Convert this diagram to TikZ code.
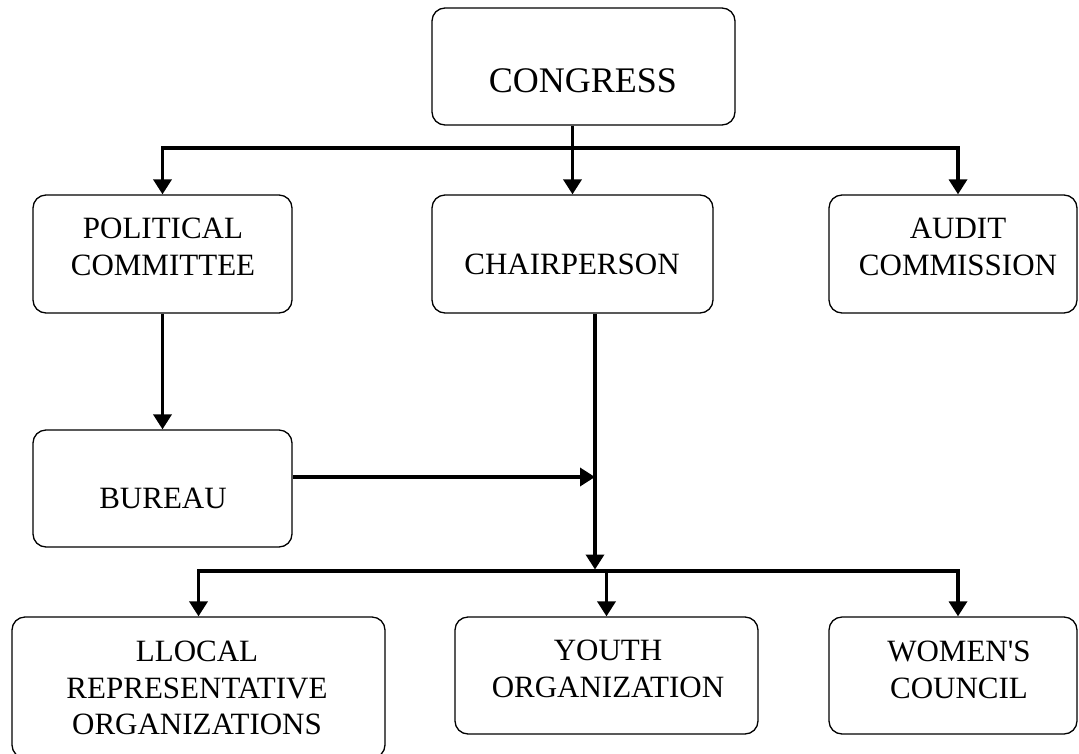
\documentclass[tikz,border=0pt]{standalone}
\usepackage{fontspec}
\newfontfamily\tnr{Liberation Serif}
\usetikzlibrary{arrows.meta}
\begin{document}
\begin{tikzpicture}[x=1pt,y=-1pt,
  box/.style={draw, line width=1.3pt, rounded corners=13pt, inner sep=0pt},
  lbl/.style={anchor=north, inner sep=0pt, align=center, font=\tnr\fontsize{31}{36.5}\selectfont},
  arr/.style={line width=3.5pt, -{Triangle[width=18pt,length=15pt]}}]
\useasboundingbox (0,0) rectangle (1079,753);
% boxes
\node[box, minimum width=303pt, minimum height=117pt] (congress) at (583.5,66.5) {};
\node[box, minimum width=259pt, minimum height=118pt] (polcom) at (162.5,254) {};
\node[box, minimum width=281pt, minimum height=118pt] (chair) at (572.5,254) {};
\node[box, minimum width=248pt, minimum height=118pt] (audit) at (953,254) {};
\node[box, minimum width=259pt, minimum height=117pt] (bureau) at (162.5,488.5) {};
\node[box, minimum width=373pt, minimum height=141pt] (llocal) at (198.5,687.5) {};
\node[box, minimum width=303pt, minimum height=117pt] (youth) at (606.5,675.5) {};
\node[box, minimum width=248pt, minimum height=117pt] (women) at (953,675.5) {};
% labels
\node[lbl, font=\tnr\fontsize{36}{42}\selectfont] (tcongress) at (583,68) {CONGRESS};
\node[lbl] (tpolcom) at (163,218) {POLITICAL\\COMMITTEE};
\node[lbl] (tchair) at (572,254) {CHAIRPERSON};
\node[lbl] (taudit) at (958,218) {AUDIT\\COMMISSION};
\node[lbl] (tbureau) at (163,488) {BUREAU};
\node[lbl] (tllocal) at (197,641) {LLOCAL\\REPRESENTATIVE\\ORGANIZATIONS};
\node[lbl] (tyouth) at (608,640) {YOUTH\\ORGANIZATION};
\node[lbl] (twomen) at (959,641) {WOMEN'S\\COUNCIL};
% junctions
\coordinate (j1) at (572,148);
\coordinate (j2) at (595,571);
\coordinate (b1) at (595,477);
% connectors
\draw[arr] (congress.south -| chair.north) -- (chair.north);
\draw[arr] (j1) -| (polcom.north);
\draw[arr] (j1) -| ([xshift=5pt]audit.north);
\draw[arr] (polcom.south) -- (bureau.north);
\draw[arr] ([xshift=22.5pt]chair.south) -- ([yshift=1.5pt]j2);
\draw[arr] ([yshift=11.5pt]bureau.east) -- (b1);
\draw[arr] (j2) -| (llocal.north);
\draw[arr] (j2) -| ([xshift=5pt]women.north);
\draw[arr] (youth.north |- j2) -- (youth.north);
\end{tikzpicture}
\end{document}
